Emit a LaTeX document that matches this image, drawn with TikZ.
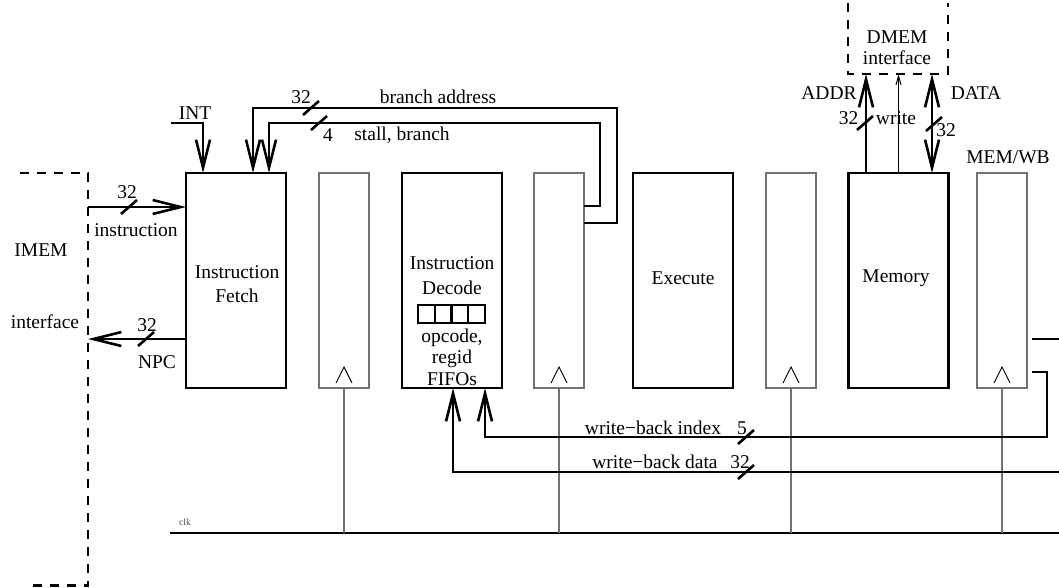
\documentclass[tikz,border=0pt]{standalone}
\usepackage{fontspec}
\setmainfont{Liberation Serif}
\usetikzlibrary{arrows.meta,calc}
\begin{document}
\begin{tikzpicture}[x=1pt,y=-1pt,
  every node/.style={font=\fontsize{19.5}{23}\selectfont, inner sep=0pt, outer sep=0pt},
  stage/.style={draw, line width=2.6pt, minimum width=100pt, minimum height=215pt},
  regbox/.style={draw=black!55, line width=1.1pt, minimum width=50pt, minimum height=215pt},
  bus/.style={line width=2.6pt},
  barb/.style={-{Straight Barb[length=28pt,width=14pt]}},
  dbarb/.style={{Straight Barb[length=28pt,width=14pt]}-{Straight Barb[length=28pt,width=14pt]}},
  thinbarb/.style={-{Straight Barb[length=9pt,width=5pt]}},
  iface/.style={line width=2.6pt, dash pattern=on 9pt off 8pt},
  clkwire/.style={draw=black!55, line width=1.1pt},
  slashmark/.pic={\draw[line width=2.6pt] (-8,7) -- (8,-7);},
  clocktri/.pic={\draw[line width=0.9pt] (-8,-5) -- (0,-21) -- (8,-5);},
]
\useasboundingbox (0,0) rectangle (1059,587);
\clip (0,0) rectangle (1059,587);

% stages and registers
\node[stage]  (fetch)  at (236,280.5) {};
\node[regbox] (reg1)   at (344,280.5) {};
\node[stage]  (decode) at (452,280.5) {};
\node[regbox] (reg2)   at (559,280.5) {};
\node[stage]  (exec)   at (683,280.5) {};
\node[regbox] (reg3)   at (791,280.5) {};
\node[stage]  (mem)    at (898.5,280.5) {};
\node[regbox] (reg4)   at (1002,280.5) {};

\node at (237,272) {Instruction};
\node at (237,296) {Fetch};
\node at (452,263) {Instruction};
\node at (452,288) {Decode};
\node at (452,338) {opcode,};
\node at (452,359) {regid};
\node at (452,379) {FIFOs};
\node at (683,278) {Execute};
\node at (896,278) {Memory};

% FIFO cells
\node[draw, line width=2pt, minimum width=16.75pt, minimum height=18pt] (f1) at (426.4,314) {};
\node[draw, line width=2pt, minimum width=16.75pt, minimum height=18pt] (f2) at (443.1,314) {};
\node[draw, line width=2pt, minimum width=16.75pt, minimum height=18pt] (f3) at (459.9,314) {};
\node[draw, line width=2pt, minimum width=16.75pt, minimum height=18pt] (f4) at (476.6,314) {};

% clock
\coordinate (clkL) at (170,533);
\coordinate (clkR) at (1065,533);
\draw[line width=1.2pt] (clkL) -- (clkR);
\node[font=\fontsize{9.5}{10}\selectfont, text=black!70] (clklbl) at (185,522) {clk};
\foreach \r in {reg1,reg2,reg3,reg4}{
  \pic at (\r.south) {clocktri};
  \draw[clkwire] (\r.south) -- (\r.south |- clkL);
}

% IMEM interface
\coordinate (imTL) at (20,173);
\coordinate (imTR) at (88,173);
\coordinate (imBR) at (88,585.5);
\coordinate (imBL) at (30,585.5);
\draw[iface] (imTL) -- (imTR) -- (imBR) -- (imBL);
\node at (41,250) {IMEM};
\node at (45,322) {interface};

\coordinate (imIn) at (88,207);
\coordinate (imOut) at (88,339);
\draw[bus,barb] (imIn) -- (imIn -| fetch.west);
\pic at (129,207) {slashmark};
\node at (127,192) {32};
\node at (136,230) {instruction};
\draw[bus,barb] (imOut -| fetch.west) -- (imOut);
\pic at (146,339) {slashmark};
\node at (147,325) {32};
\node at (157,362) {NPC};

% INT
\coordinate (intIn) at (171,123);
\draw[bus,barb] (intIn) -| (fetch.north -| 203,0);
\node at (195,113) {INT};

% branch feedback
\draw[bus,barb] (reg2.east |- 0,223) -| (617,108) -| (fetch.north -| 253,0);
\draw[bus,barb] (reg2.east |- 0,206) -| (600,123) -| (fetch.north -| 269,0);
\pic at (311,108) {slashmark};
\pic at (319,123) {slashmark};
\node at (301,97) {32};
\node at (438,97) {branch address};
\node at (328,135) {4};
\node at (402,135) {stall, branch};

% DMEM interface
\coordinate (dmTL) at (848,3);
\coordinate (dmBL) at (848,74);
\coordinate (dmBR) at (948,74);
\coordinate (dmTR) at (948,3);
\draw[iface] (dmTL) -- (dmBL) -- (dmBR) -- (dmTR);
\node at (897,37) {DMEM};
\node at (897,58) {interface};

\draw[bus,barb] (mem.north -| 866,0) -- (866,0 |- dmBL);
\draw[line width=1pt,thinbarb] (mem.north) -- (mem.north |- dmBL);
\draw[bus,dbarb] (932,0 |- dmBL) -- (mem.north -| 932,0);
\pic at (865,123) {slashmark};
\pic at (934,124) {slashmark};
\node at (829,93) {ADDR};
\node at (976,93) {DATA};
\node at (848.5,118) {32};
\node at (896,118) {write};
\node at (946,130) {32};
\node at (1008,157) {MEM/WB};

% write-back
\coordinate (wbIdx) at (1032,372);
\coordinate (wbDat) at (1032,339);
\draw[bus,barb] (wbIdx) -| (1047,437) -| (decode.south -| 485,0);
\draw[bus,barb] (wbDat) -- (1075,339) -- (1075,472) -| (decode.south -| 453,0);
\pic at (746,437) {slashmark};
\pic at (746,472) {slashmark};
\node at (653,428) {write−back index};
\node at (742,428) {5};
\node at (655,462) {write−back data};
\node at (740,462) {32};
\end{tikzpicture}
\end{document}
